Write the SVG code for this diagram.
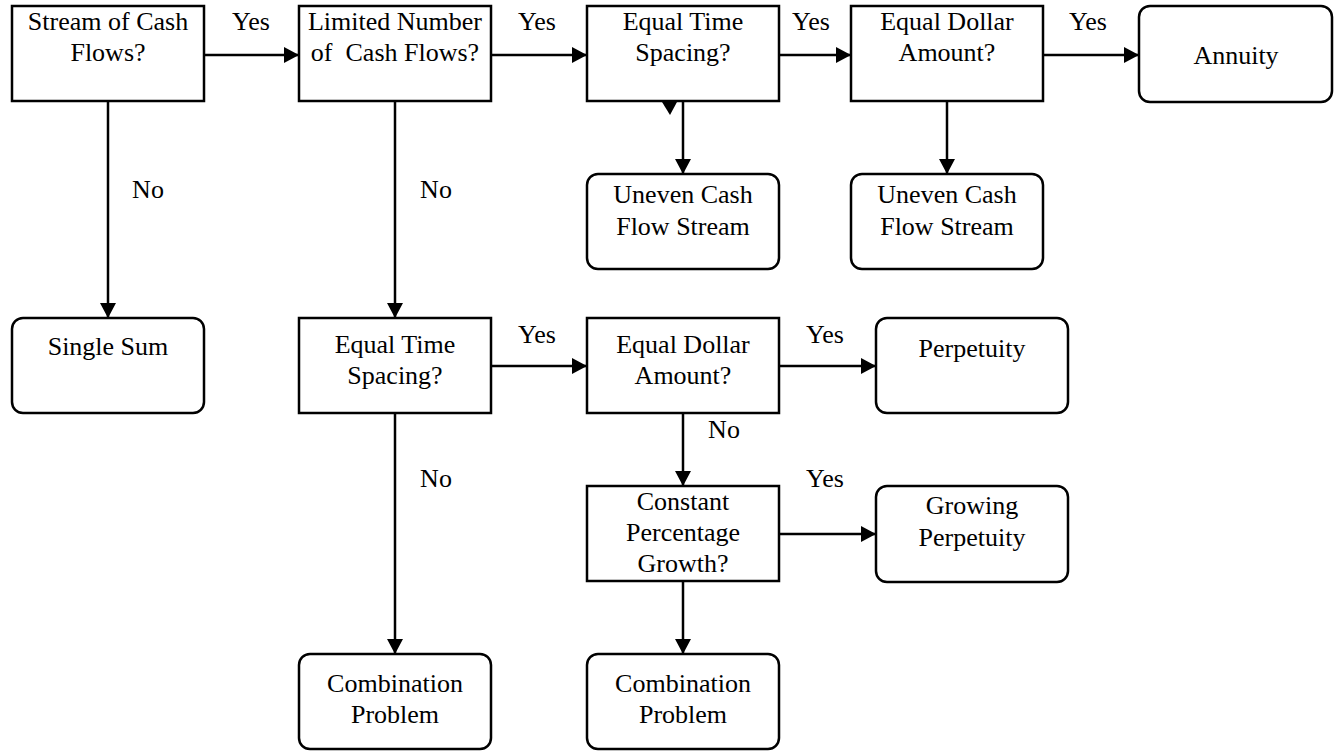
<svg xmlns="http://www.w3.org/2000/svg" width="1337" height="751" viewBox="0 0 1337 751">
<style>
.box{fill:#fff;stroke:#000;stroke-width:2.5}
.t{font-family:'Liberation Serif','DejaVu Serif',serif;font-size:26px;fill:#000;text-anchor:middle}
.c{stroke:#000;stroke-width:2.5;fill:none;marker-end:url(#ah)}
</style>
<defs>
<marker id="ah" markerUnits="userSpaceOnUse" markerWidth="16" markerHeight="16" refX="15" refY="8" orient="auto">
<path d="M0,0 L15,8 L0,16 z" fill="#000"/>
</marker>
</defs>
<rect width="1337" height="751" fill="#fff"/>
<g id="connectors">
<line class="c" x1="204" y1="55" x2="299" y2="55"/>
<line class="c" x1="491" y1="55" x2="587" y2="55"/>
<line class="c" x1="779" y1="55" x2="851" y2="55"/>
<line class="c" x1="1043" y1="55" x2="1139" y2="55"/>
<line class="c" x1="108" y1="101" x2="108" y2="318"/>
<line class="c" x1="395" y1="101" x2="395" y2="318"/>
<line class="c" x1="683" y1="101" x2="683" y2="174"/>
<line class="c" x1="947" y1="101" x2="947" y2="174"/>
<line class="c" x1="491" y1="366" x2="587" y2="366"/>
<line class="c" x1="779" y1="366" x2="876" y2="366"/>
<line class="c" x1="395" y1="413" x2="395" y2="654"/>
<line class="c" x1="683" y1="413" x2="683" y2="486"/>
<line class="c" x1="779" y1="534" x2="876" y2="534"/>
<line class="c" x1="683" y1="581" x2="683" y2="654"/>
<polygon points="662,102 677,102 670,115" fill="#000"/>
<text class="t" x="251" y="30">Yes</text>
<text class="t" x="537" y="30">Yes</text>
<text class="t" x="811" y="30">Yes</text>
<text class="t" x="1088" y="30">Yes</text>
<text class="t" x="148" y="198">No</text>
<text class="t" x="436" y="198">No</text>
<text class="t" x="537" y="343">Yes</text>
<text class="t" x="825" y="343">Yes</text>
<text class="t" x="724" y="438">No</text>
<text class="t" x="436" y="487">No</text>
<text class="t" x="825" y="487">Yes</text>
</g>
<g id="stream"><rect class="box" x="12" y="6" width="192" height="95"/><text class="t" x="108" y="30">Stream of Cash</text><text class="t" x="108" y="61">Flows?</text></g>
<g id="limited"><rect class="box" x="299" y="6" width="192" height="95"/><text class="t" x="395" y="30" xml:space="preserve">Limited Number</text><text class="t" x="395" y="61" xml:space="preserve">of  Cash Flows?</text></g>
<g id="ets1"><rect class="box" x="587" y="6" width="192" height="95"/><text class="t" x="683" y="30">Equal Time</text><text class="t" x="683" y="61">Spacing?</text></g>
<g id="eda1"><rect class="box" x="851" y="6" width="192" height="95"/><text class="t" x="947" y="30">Equal Dollar</text><text class="t" x="947" y="61">Amount?</text></g>
<g id="annuity"><rect class="box" x="1139" y="6" width="193" height="96" rx="11"/><text class="t" x="1236" y="64">Annuity</text></g>
<g id="uneven1"><rect class="box" x="587" y="174" width="192" height="95" rx="11"/><text class="t" x="683" y="203">Uneven Cash</text><text class="t" x="683" y="235">Flow Stream</text></g>
<g id="uneven2"><rect class="box" x="851" y="174" width="192" height="95" rx="11"/><text class="t" x="947" y="203">Uneven Cash</text><text class="t" x="947" y="235">Flow Stream</text></g>
<g id="single"><rect class="box" x="12" y="318" width="192" height="95" rx="11"/><text class="t" x="108" y="355">Single Sum</text></g>
<g id="ets2"><rect class="box" x="299" y="318" width="192" height="95"/><text class="t" x="395" y="353">Equal Time</text><text class="t" x="395" y="384">Spacing?</text></g>
<g id="eda2"><rect class="box" x="587" y="318" width="192" height="95"/><text class="t" x="683" y="353">Equal Dollar</text><text class="t" x="683" y="384">Amount?</text></g>
<g id="perpetuity"><rect class="box" x="876" y="318" width="192" height="95" rx="11"/><text class="t" x="972" y="357">Perpetuity</text></g>
<g id="constant"><rect class="box" x="587" y="486" width="192" height="95"/><text class="t" x="683" y="510">Constant</text><text class="t" x="683" y="541">Percentage</text><text class="t" x="683" y="572">Growth?</text></g>
<g id="growing"><rect class="box" x="876" y="486" width="192" height="96" rx="11"/><text class="t" x="972" y="514">Growing</text><text class="t" x="972" y="546">Perpetuity</text></g>
<g id="combo1"><rect class="box" x="299" y="654" width="192" height="95" rx="11"/><text class="t" x="395" y="692">Combination</text><text class="t" x="395" y="723">Problem</text></g>
<g id="combo2"><rect class="box" x="587" y="654" width="192" height="95" rx="11"/><text class="t" x="683" y="692">Combination</text><text class="t" x="683" y="723">Problem</text></g>
</svg>
